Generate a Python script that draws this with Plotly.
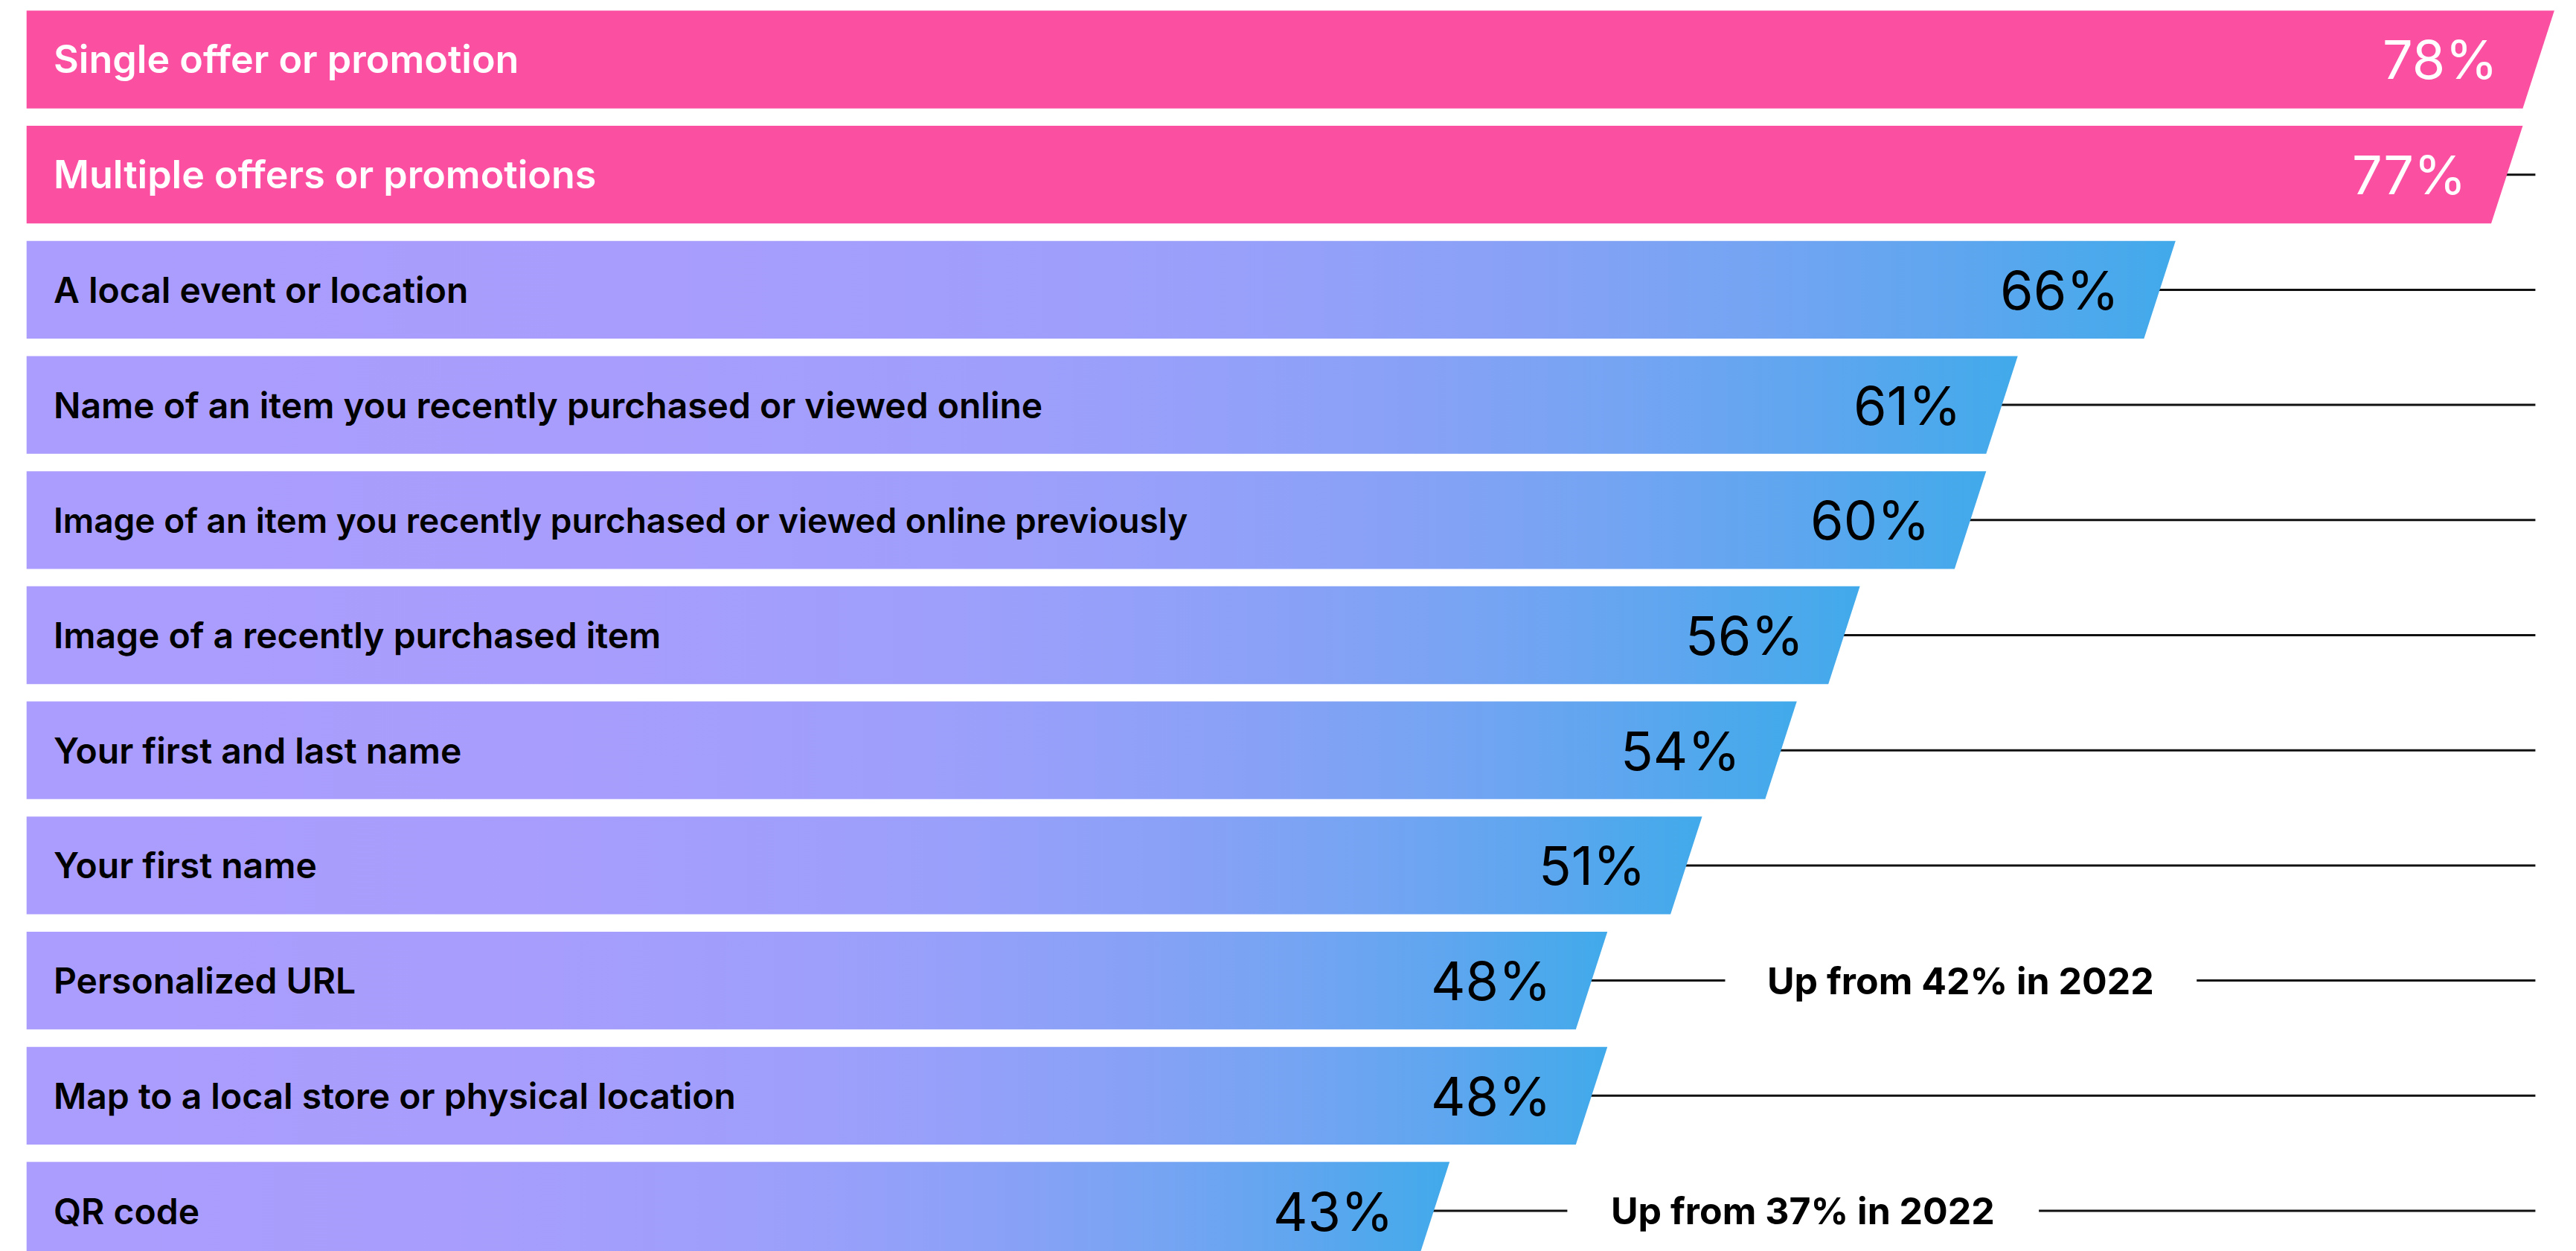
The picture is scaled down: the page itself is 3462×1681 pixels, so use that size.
import plotly.graph_objects as go

# Survey answers, top to bottom
categories = [
    "Single offer or promotion",
    "Multiple offers or promotions",
    "A local event or location",
    "Name of an item you recently purchased or viewed online",
    "Image of an item you recently purchased or viewed online previously",
    "Image of a recently purchased item",
    "Your first and last name",
    "Your first name",
    "Personalized URL",
    "Map to a local store or physical location",
    "QR code",
]
values = [78, 77, 66, 61, 60, 56, 54, 51, 48, 48, 43]
highlighted = [True, True, False, False, False, False, False, False, False, False, False]
notes = [None, None, None, None, None, None, None, None,
         "Up from 42% in 2022", None, "Up from 37% in 2022"]

# Styling
PINK = "#FB4FA2"
GRADIENT = [
    [0.0, "#AB9DFD"], [0.3, "#A89DFC"], [0.5, "#9E9FFB"], [0.6, "#94A0F9"],
    [0.7, "#87A1F6"], [0.8, "#75A4F3"], [0.9, "#5EA6EF"], [1.0, "#41AAEA"],
]
FONT = "Inter"
W, H = 3462, 1681

LABEL_SIZE_HI = 52     # labels on the pink bars
LABEL_SIZE = 48        # labels on the gradient bars
LONG_LABEL_SIZE = 46   # the longest label is set a touch smaller

BAR_LEFT = -1.584      # bars start a little left of zero
HALF_H = 0.4244        # half bar thickness in category units
SLANT = 0.5            # half of the horizontal offset of the slanted end
LINE_END = 77.9        # where the leader lines stop
NOTE_OFFSET = 11.7     # note centre relative to the bar value
NOTE_HALF_GAP = 7.47   # half width of the break in the leader line
LABEL_X = -0.78

fig = go.Figure()
shapes = []
annotations = []

longest = max(categories, key=len)

for i, (cat, v, hi, note) in enumerate(zip(categories, values, highlighted, notes)):
    y_top, y_bot = i - HALF_H, i + HALF_H
    xs = [BAR_LEFT, v + SLANT, v - SLANT, BAR_LEFT, BAR_LEFT]
    ys = [y_top, y_top, y_bot, y_bot, y_top]
    trace = dict(
        x=xs, y=ys, mode="lines", fill="toself",
        line=dict(width=0), hoverinfo="skip", showlegend=False,
    )
    if hi:
        trace["fillcolor"] = PINK
    else:
        trace["fillgradient"] = dict(
            type="horizontal", colorscale=GRADIENT,
            start=BAR_LEFT, stop=v + SLANT,
        )
    fig.add_trace(go.Scatter(**trace))

    txt_color = "white" if hi else "black"

    # leader line to the right edge, broken around an optional note
    if v < LINE_END:
        if note:
            cx = v + NOTE_OFFSET
            segs = [(v - SLANT, cx - NOTE_HALF_GAP), (cx + NOTE_HALF_GAP, LINE_END)]
        else:
            segs = [(v - SLANT, LINE_END)]
        for x0, x1 in segs:
            shapes.append(dict(
                type="line", xref="x", yref="y", x0=x0, x1=x1, y0=i, y1=i,
                line=dict(color="#111111", width=3), layer="below",
            ))

    if hi:
        size = LABEL_SIZE_HI
    elif cat == longest:
        size = LONG_LABEL_SIZE
    else:
        size = LABEL_SIZE
    annotations.append(dict(
        x=LABEL_X, y=i, xref="x", yref="y", text=cat, showarrow=False,
        xanchor="left", yanchor="middle",
        font=dict(family=FONT, size=size, weight=600, color=txt_color),
    ))
    annotations.append(dict(
        x=v - 1.23, y=i, xref="x", yref="y", text=f"{v}%", showarrow=False,
        xanchor="right", yanchor="middle",
        font=dict(family=FONT, size=72, weight=400, color=txt_color),
    ))
    if note:
        annotations.append(dict(
            x=v + NOTE_OFFSET, y=i, xref="x", yref="y", text=note,
            showarrow=False, xanchor="center", yanchor="middle",
            font=dict(family=FONT, size=50, weight=750, color="black"),
        ))

fig.update_layout(
    width=W, height=H, autosize=False,
    margin=dict(l=0, r=0, t=0, b=0),
    paper_bgcolor="white", plot_bgcolor="white",
    xaxis=dict(range=[-2.426, 79.187], visible=False, fixedrange=True),
    yaxis=dict(range=[10.349, -0.517], visible=False, fixedrange=True),
    shapes=shapes, annotations=annotations,
    showlegend=False,
)

fig.write_html("out.html", config=dict(displayModeBar=False))
